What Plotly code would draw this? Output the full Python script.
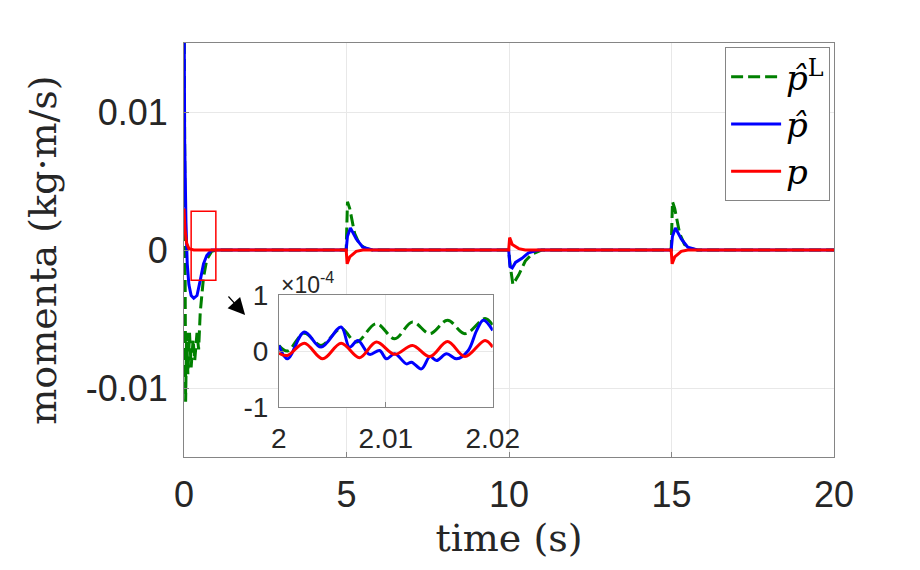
import plotly.graph_objects as go

# main signals (s, kg.m/s)
t_pl = [0, 0.02, 0.05, 0.08, 0.12, 0.17, 0.22, 0.28, 0.33, 0.40, 0.45, 0.50, 0.60, 0.70, 0.85, 1.0,
        4.99, 5.03, 5.10, 5.25, 5.40, 5.60, 5.80,
        9.99, 10.03, 10.12, 10.30, 10.50, 10.70, 11.0,
        14.99, 15.03, 15.10, 15.25, 15.40, 15.60, 15.80, 20]
p_l = [0.02, 0.0, -0.011, -0.006, -0.009, -0.006, -0.0085, -0.0065, -0.008, -0.006, -0.0072, -0.0045,
       -0.002, -0.0007, -0.0001, 0,
       0, 0.0035, 0.003, 0.0012, 0.0004, 0.0001, 0,
       0, -0.0010, -0.0025, -0.0018, -0.0008, -0.0003, 0,
       0, 0.0035, 0.003, 0.0012, 0.0004, 0.0001, 0, 0]

t_ph = [0, 0.02, 0.06, 0.10, 0.15, 0.22, 0.30, 0.40, 0.50, 0.60, 0.70, 0.85,
        4.99, 5.03, 5.12, 5.30, 5.50, 5.80,
        9.99, 10.03, 10.10, 10.20, 10.40, 10.60, 10.90,
        14.99, 15.03, 15.12, 15.30, 15.50, 15.80, 20]
p_hat = [0.02, 0.008, 0.002, -0.001, -0.0025, -0.0033, -0.0035, -0.0033, -0.0022, -0.001, -0.0004, 0,
         0, 0.0010, 0.0016, 0.0008, 0.0002, 0,
         0, -0.0012, -0.0013, -0.0009, -0.0006, -0.0002, 0,
         0, 0.0010, 0.0016, 0.0008, 0.0002, 0, 0]

t_p = [0, 0.03, 0.08, 0.15, 0.30,
       4.99, 5.02, 5.10, 5.30, 5.50,
       9.99, 10.02, 10.10, 10.30, 10.50,
       14.99, 15.02, 15.10, 15.30, 15.50, 20]
p = [0.003, 0.0015, 0.0005, 0.0001, 0,
     0, -0.0010, -0.0005, -0.0001, 0,
     0, 0.0009, 0.0004, 0.0001, 0,
     0, -0.0010, -0.0005, -0.0001, 0, 0]

# zoomed window 2 .. 2.02 s (units of 1e-4)
t_z_red = [2.0, 2.0008, 2.00238, 2.0041, 2.00582, 2.00754, 2.00911, 2.01083, 2.01249, 2.01412,
           2.01577, 2.0174, 2.01928, 2.02]
z_red = [-0.04, -0.08, 0.14, -0.14, 0.14, -0.12, 0.16, -0.06, 0.10, -0.10, 0.17, -0.10, 0.19, 0.07]

t_z_blue = [2.0, 2.0008, 2.00238, 2.00394, 2.00582, 2.0066, 2.00739, 2.00848, 2.00942, 2.01005,
            2.01083, 2.01193, 2.0124, 2.01333, 2.01412, 2.01474, 2.01568, 2.01662, 2.01771,
            2.01850, 2.01912, 2.02]
z_blue = [0.10, -0.14, 0.34, 0.07, 0.43, 0.07, 0.19, -0.06, 0.01, -0.14, -0.05, -0.23, -0.20,
          -0.32, -0.10, -0.17, -0.05, -0.14, 0.01, 0.37, 0.55, 0.37]

t_z_green = [2.0, 2.0008, 2.00238, 2.00394, 2.00582, 2.00723, 2.00911, 2.01083, 2.01249, 2.01412,
             2.01577, 2.0174, 2.01928, 2.02]
z_green = [0.10, 0.0, 0.32, 0.10, 0.40, 0.16, 0.49, 0.22, 0.52, 0.31, 0.55, 0.31, 0.58, 0.46]

GREEN = "#008000"
BLUE = "#0000ff"
RED = "#ff0000"
SANS = "Liberation Sans, Arial, sans-serif"
SERIF = "DejaVu Serif, Liberation Serif, serif"
DASH = "12px,5px"

fig = go.Figure()

fig.add_trace(go.Scatter(x=t_pl, y=p_l, mode="lines", name="<i>p̂</i><sup>L</sup>",
                         line=dict(color=GREEN, width=3, dash=DASH)))
fig.add_trace(go.Scatter(x=t_ph, y=p_hat, mode="lines", name="<i>p̂</i>",
                         line=dict(color=BLUE, width=3)))
fig.add_trace(go.Scatter(x=t_p, y=p, mode="lines", name="<i>p</i>",
                         line=dict(color=RED, width=3)))

# inset
fig.add_trace(go.Scatter(x=t_z_green, y=z_green, mode="lines", xaxis="x2", yaxis="y2", showlegend=False,
                         line=dict(color=GREEN, width=3, dash=DASH, shape="spline")))
fig.add_trace(go.Scatter(x=t_z_blue, y=z_blue, mode="lines", xaxis="x2", yaxis="y2", showlegend=False,
                         line=dict(color=BLUE, width=3, shape="spline")))
fig.add_trace(go.Scatter(x=t_z_red, y=z_red, mode="lines", xaxis="x2", yaxis="y2", showlegend=False,
                         line=dict(color=RED, width=3, shape="spline")))

axis_common = dict(showline=True, linecolor="#858585", linewidth=1, mirror=True,
                   showgrid=True, gridcolor="#e8e8e8", zeroline=False,
                   ticks="inside", ticklen=5, tickcolor="#858585")

# page body has an 8px margin, so the figure is offset by 8px
fig.update_layout(
    width=920, height=570,
    margin=dict(l=176, r=94, t=35, b=121),
    plot_bgcolor="white", paper_bgcolor="white",
    font=dict(family=SANS, color="#262626"),
    xaxis=dict(range=[0, 20], tickvals=[0, 5, 10, 15, 20], ticktext=["0", "5", "10", "15", "20"],
               tickfont=dict(size=36), ticklabelstandoff=6,
               title=dict(text="time (s)", font=dict(family=SERIF, size=38), standoff=10),
               **axis_common),
    yaxis=dict(range=[-0.015, 0.015], tickvals=[-0.01, 0, 0.01], ticktext=["-0.01", "0", "0.01"],
               tickfont=dict(size=36), ticklabelstandoff=8,
               title=dict(text="momenta (kg·m/s)", font=dict(family=SERIF, size=38), standoff=17),
               **axis_common),
    xaxis2=dict(domain=[0.146, 0.475], anchor="y2", range=[2, 2.02],
                tickvals=[2, 2.01, 2.02], ticktext=["2", "2.01", "2.02"],
                tickfont=dict(size=28), ticklabelstandoff=6, **axis_common),
    yaxis2=dict(domain=[0.121, 0.391], anchor="x2", range=[-1, 1],
                tickvals=[-1, 0, 1], ticktext=["-1", "0", "1"],
                tickfont=dict(size=28), ticklabelstandoff=4, **axis_common),
    legend=dict(x=0.994, y=0.99, xanchor="right", yanchor="top", itemwidth=50,
                bgcolor="white", bordercolor="#858585", borderwidth=1,
                font=dict(family=SERIF, size=34, color="black"), tracegroupgap=0),
    showlegend=True,
)

# red box around the zoomed region
fig.add_shape(type="rect", xref="x", yref="y", x0=0.22, x1=0.98, y0=-0.0022, y1=0.0028,
              line=dict(color=RED, width=1.5))

# exponent label of the inset
fig.add_annotation(xref="paper", yref="paper", x=0.146, y=0.391, xanchor="left", yanchor="bottom",
                   text="×10<sup>-4</sup>", showarrow=False, font=dict(family=SANS, size=23, color="#262626"),
                   yshift=-5)

# arrow pointing to the inset
fig.add_annotation(xref="paper", yref="paper", x=0.094, y=0.343, ax=-18, ay=-20,
                   text="", showarrow=True, arrowhead=2, arrowsize=2.8, arrowwidth=1.2, arrowcolor="black")

fig.write_html("out.html")
